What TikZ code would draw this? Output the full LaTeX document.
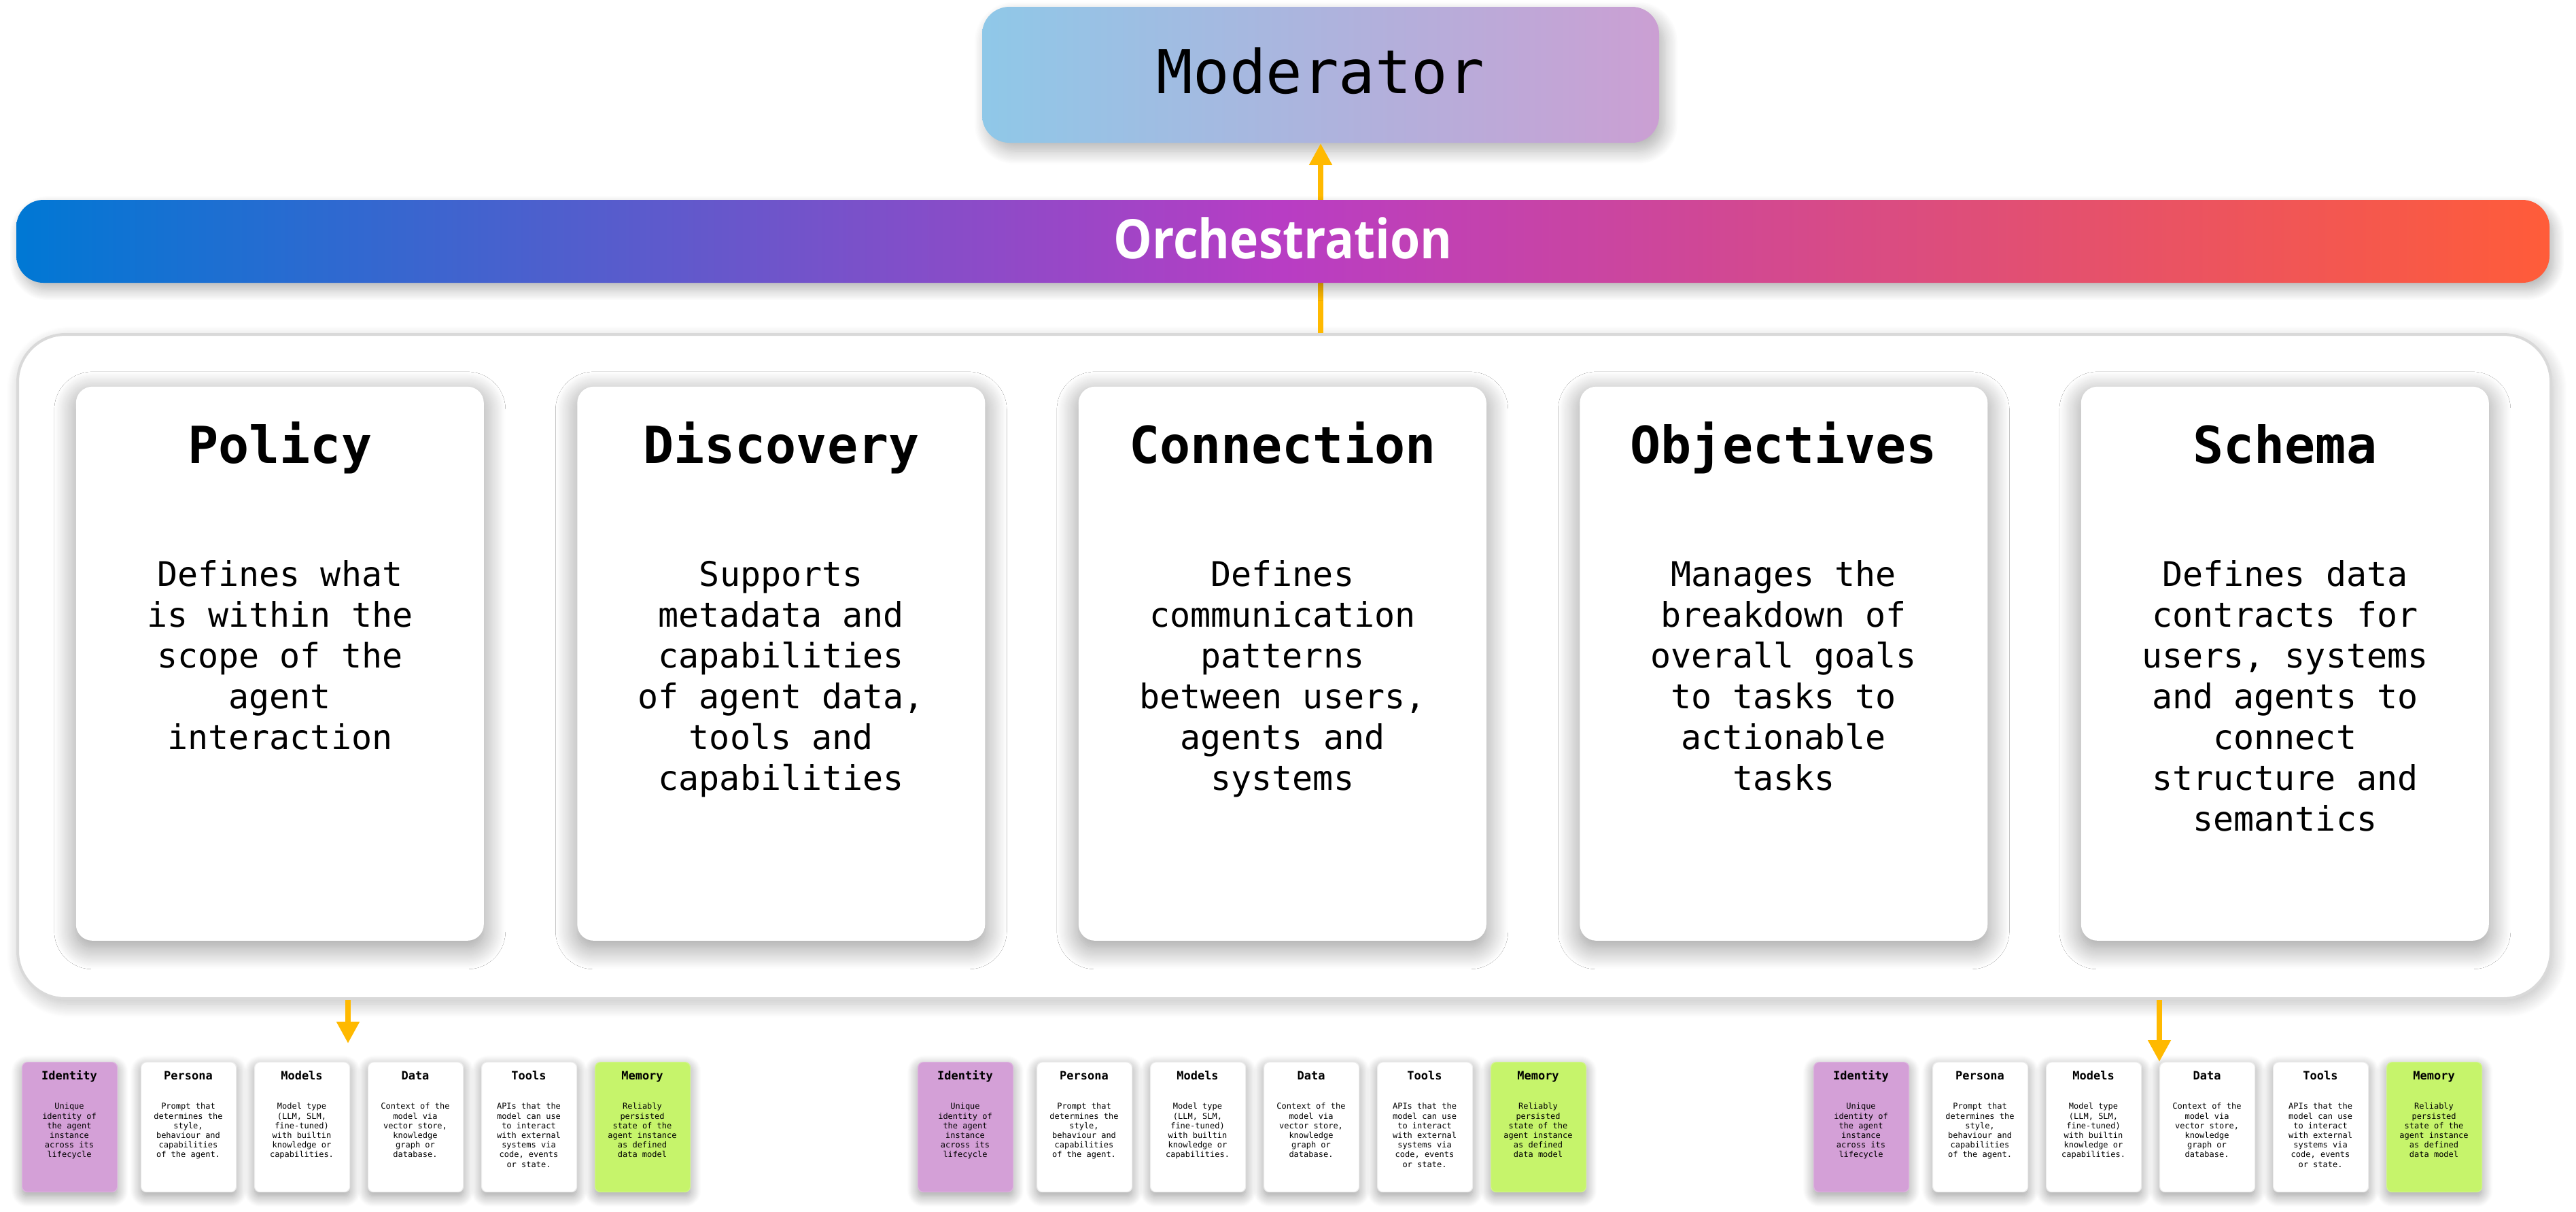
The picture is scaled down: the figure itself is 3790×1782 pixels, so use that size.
\documentclass[tikz,border=0pt]{standalone}
\usepackage{fontspec}
\setmainfont{Open Sans}
\setmonofont{DejaVu Sans Mono}
\usetikzlibrary{arrows.meta,shadows.blur}
\definecolor{arrowc}{HTML}{FFB900}
\definecolor{orchA}{HTML}{0078D4}
\definecolor{orchB}{HTML}{B83DC4}
\definecolor{orchC}{HTML}{FF5C39}
\definecolor{modA}{HTML}{8FC8E8}
\definecolor{modB}{HTML}{CB9FD3}
\definecolor{idfill}{HTML}{D4A0D7}
\definecolor{memfill}{HTML}{C6F46B}
\definecolor{contborder}{HTML}{D9D9D9}
\newcommand{\bigstrut}{\rule{0pt}{10pt}}
\newcommand{\tinystrut}{\rule{0pt}{2.4pt}}
\tikzset{
  container/.style={draw=contborder, line width=1pt, fill=white, rounded corners=17.5pt,
    minimum width=931.75pt, minimum height=244.25pt, inner sep=0pt,
    blur shadow={shadow xshift=1pt, shadow yshift=-2pt, shadow blur radius=5pt, shadow blur steps=20, shadow opacity=25}},
  bigcard/.style={fill=white, rounded corners=6pt, minimum width=150pt, minimum height=203.75pt, inner sep=0pt,
    blur shadow={shadow xshift=0pt, shadow yshift=-2.5pt, shadow blur radius=8pt, shadow blur steps=30, shadow blur extra rounding=4pt, shadow opacity=42}},
  bigtitle/.style={font=\ttfamily\bfseries\fontsize{18.75pt}{22pt}\selectfont, inner sep=0pt},
  bigbody/.style={font=\ttfamily\fontsize{12.5pt}{15pt}\selectfont, align=center, inner sep=0pt},
  smallcard/.style={fill=white, draw=black!7, line width=0.3pt, rounded corners=2pt, minimum width=35pt, minimum height=47.75pt, inner sep=0pt,
    blur shadow={shadow xshift=0pt, shadow yshift=-1.5pt, shadow blur radius=4pt, shadow blur steps=16, shadow opacity=40}},
  smalltitle/.style={font=\ttfamily\bfseries\fontsize{4.25pt}{5pt}\selectfont, inner sep=0pt},
  smallbody/.style={font=\ttfamily\fontsize{3pt}{3.55pt}\selectfont, align=center, inner sep=0pt},
  conn/.style={draw=arrowc, line width=2pt, -{Triangle[width=8pt,length=8pt]}},
  orchbar/.style={rounded corners=10pt, minimum width=931.75pt, minimum height=30.5pt, inner sep=0pt,
    left color=orchA, right color=orchC, middle color=orchB,
    blur shadow={shadow xshift=1.5pt, shadow yshift=-2.5pt, shadow blur radius=4pt, shadow blur steps=16, shadow opacity=30}},
  orchtext/.style={text=white, font=\bfseries\fontsize{20pt}{24pt}\selectfont, inner sep=0pt},
  modbox/.style={rounded corners=10pt, minimum width=249pt, minimum height=50pt, inner sep=0pt,
    left color=modA, right color=modB,
    blur shadow={shadow xshift=2pt, shadow yshift=-3pt, shadow blur radius=5pt, shadow blur steps=16, shadow opacity=30}},
  modtext/.style={font=\ttfamily\fontsize{22.25pt}{26pt}\selectfont, inner sep=0pt}
}
\newcommand{\agentgroup}[2]{%
  \node[smallcard, fill=idfill, draw=idfill!80!white, anchor=north west] (#2id) at (#1,1562) {};
  \node[smallcard, anchor=north west] (#2pe) at (#1+175,1562) {};
  \node[smallcard, anchor=north west] (#2mo) at (#1+342,1562) {};
  \node[smallcard, anchor=north west] (#2da) at (#1+509,1562) {};
  \node[smallcard, anchor=north west] (#2to) at (#1+676,1562) {};
  \node[smallcard, fill=memfill, draw=memfill!80!white, anchor=north west] (#2me) at (#1+843,1562) {};
  \node[smalltitle, anchor=base] (#2idT) at (#1+70,1588) {Identity};
  \node[smalltitle, anchor=base] (#2peT) at (#1+245,1588) {Persona};
  \node[smalltitle, anchor=base] (#2moT) at (#1+412,1588) {Models};
  \node[smalltitle, anchor=base] (#2daT) at (#1+579,1588) {Data};
  \node[smalltitle, anchor=base] (#2toT) at (#1+746,1588) {Tools};
  \node[smalltitle, anchor=base] (#2meT) at (#1+913,1588) {Memory};
  \node[smallbody, anchor=north] (#2idB) at (#1+70,1621.4) {\tinystrut Unique\\identity of\\the agent\\instance\\across its\\lifecycle};
  \node[smallbody, anchor=north] (#2peB) at (#1+245,1621.4) {\tinystrut Prompt that\\determines the\\style,\\behaviour and\\capabilities\\of the agent.};
  \node[smallbody, anchor=north] (#2moB) at (#1+412,1621.4) {\tinystrut Model type\\(LLM, SLM,\\fine-tuned)\\with builtin\\knowledge or\\capabilities.};
  \node[smallbody, anchor=north] (#2daB) at (#1+579,1621.4) {\tinystrut Context of the\\model via\\vector store,\\knowledge\\graph or\\database.};
  \node[smallbody, anchor=north] (#2toB) at (#1+746,1621.4) {\tinystrut APIs that the\\model can use\\to interact\\with external\\systems via\\code, events\\or state.};
  \node[smallbody, anchor=north] (#2meB) at (#1+913,1621.4) {\tinystrut Reliably\\persisted\\state of the\\agent instance\\as defined\\data model};
}
\begin{document}
\begin{tikzpicture}[x=0.25pt,y=-0.25pt]
\useasboundingbox (0,0) rectangle (3790,1782);
% container
\node[container, anchor=north west] (cont) at (24,490) {};
% big cards
\node[bigcard, anchor=north west] (pol) at (111,568) {};
\node[bigcard, anchor=north west] (dis) at (848.5,568) {};
\node[bigcard, anchor=north west] (con) at (1586,568) {};
\node[bigcard, anchor=north west] (obj) at (2323.5,568) {};
\node[bigcard, anchor=north west] (sch) at (3061,568) {};
\node[bigtitle, anchor=base] (polT) at (pol.north |- 0,681) {Policy};
\node[bigtitle, anchor=base] (disT) at (dis.north |- 0,681) {Discovery};
\node[bigtitle, anchor=base] (conT) at (con.north |- 0,681) {Connection};
\node[bigtitle, anchor=base] (objT) at (obj.north |- 0,681) {Objectives};
\node[bigtitle, anchor=base] (schT) at (sch.north |- 0,681) {Schema};
\node[bigbody, anchor=north] (polB) at (pol.north |- 0,822) {\bigstrut Defines what\\is within the\\scope of the\\agent\\interaction};
\node[bigbody, anchor=north] (disB) at (dis.north |- 0,822) {\bigstrut Supports\\metadata and\\capabilities\\of agent data,\\tools and\\capabilities};
\node[bigbody, anchor=north] (conB) at (con.north |- 0,822) {\bigstrut Defines\\communication\\patterns\\between users,\\agents and\\systems};
\node[bigbody, anchor=north] (objB) at (obj.north |- 0,822) {\bigstrut Manages the\\breakdown of\\overall goals\\to tasks to\\actionable\\tasks};
\node[bigbody, anchor=north] (schB) at (sch.north |- 0,822) {\bigstrut Defines data\\contracts for\\users, systems\\and agents to\\connect\\structure and\\semantics};
% agent groups
\agentgroup{32}{ga}
\agentgroup{1350}{gb}
\agentgroup{2668}{gc}
% moderator
\node[modbox] (mod) at (1943,110) {};
\node[modtext, anchor=base] (modT) at (1943,137) {Moderator};
% arrows
\draw[conn] (cont.north -| mod.south) -- (mod.south);
\coordinate (gaend) at (512,1535);
\draw[conn] (cont.south -| gaend) -- (gaend);
\draw[conn] (cont.south -| gcda.north west) -- (gcda.north west);
% orchestration bar
\node[orchbar] (orch) at (1887.5,355) {};
\node[orchtext, anchor=base] (orchT) at (1887.5,380) {\scalebox{0.893}[1]{Orchestration}};
\end{tikzpicture}
\end{document}
